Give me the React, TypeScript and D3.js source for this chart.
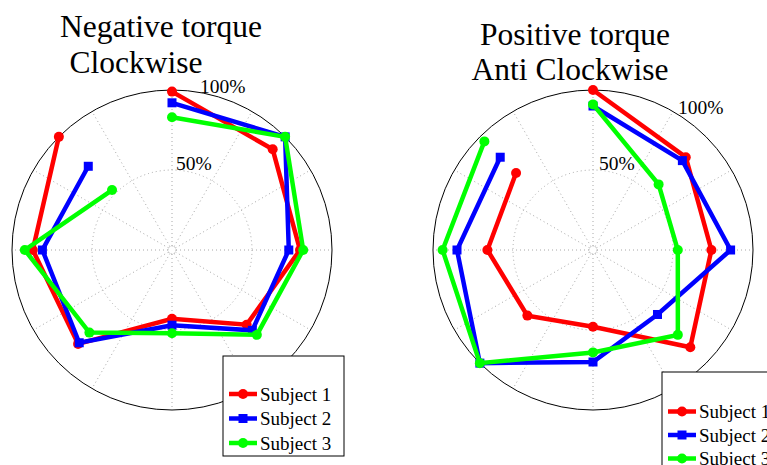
import React from 'react';
import * as d3 from 'd3';

// directions of the 8 measurements, degrees counter-clockwise from +x
const angles = [90, 45, 0, -45, -90, -135, 180, 135];

// percent values
const negSubject1 = [99, 89, 80, 66, 43, 83, 87, 100];
const negSubject2 = [92, 100, 73, 71, 47, 82, 81, 74];
const negSubject3 = [83, 100, 82, 75, 52, 73, 92, 53];

const posSubject1 = [100, 82, 74, 86, 48, 58, 66, 68];
const posSubject2 = [90, 79, 86, 57, 70, 100, 85, 82];
const posSubject3 = [91, 58, 53, 75, 64, 100, 94, 96];

const seriesNames = ['Subject 1', 'Subject 2', 'Subject 3'];
const seriesColors = ['#ff0000', '#0000ff', '#00ff00'];
const seriesMarkers = ['circle', 'square', 'circle'];
const ringTicks = [50, 100];

const R = 160;
const serif = { fontFamily: 'Liberation Serif, Times New Roman, DejaVu Serif, serif' };

const rScale = d3.scaleLinear().domain([0, 100]).range([0, R]);

const Marker = ({ x, y, kind, color }: { x: number; y: number; kind: string; color: string }) =>
    kind === 'square'
        ? <rect x={x - 4.5} y={y - 4.5} width={9} height={9} fill={color} />
        : <circle cx={x} cy={y} r={5} fill={color} />;

const PolarPanel = ({ cx, cy, series, titles, labelPos, legend }: any) => {
    const pt = (deg: number, v: number) => {
        const a = (deg * Math.PI) / 180;
        return [cx + rScale(v) * Math.cos(a), cy - rScale(v) * Math.sin(a)];
    };
    const line = d3.line<number[]>().x(d => d[0]).y(d => d[1]);
    const spokes = d3.range(0, 360, 30);

    return (
        <g>
            {/* grid */}
            {spokes.map(s => {
                const a = (s * Math.PI) / 180;
                return (
                    <line key={s}
                        x1={cx + 4 * Math.cos(a)} y1={cy - 4 * Math.sin(a)}
                        x2={cx + R * Math.cos(a)} y2={cy - R * Math.sin(a)}
                        stroke="#a8a8a8" strokeWidth={1} strokeDasharray="1,3" />
                );
            })}
            <circle cx={cx} cy={cy} r={4} fill="none" stroke="#a8a8a8" strokeDasharray="1,2" />
            <circle cx={cx} cy={cy} r={rScale(ringTicks[0])} fill="none" stroke="#a8a8a8" strokeDasharray="1,3" />
            <circle cx={cx} cy={cy} r={rScale(ringTicks[1])} fill="none" stroke="#000" strokeWidth={1} />
            {ringTicks.map((t, i) => (
                <text key={t} x={labelPos[i][0]} y={labelPos[i][1]} style={serif} fontSize={19.5}>{t}%</text>
            ))}

            {/* data */}
            {series.map((vals: number[], si: number) => {
                const pts = vals.map((v, i) => pt(angles[i], v));
                return (
                    <g key={si}>
                        <path d={line(pts) || ''} fill="none" stroke={seriesColors[si]} strokeWidth={4.5} strokeLinejoin="miter" />
                        {pts.map((p, i) => <Marker key={i} x={p[0]} y={p[1]} kind={seriesMarkers[si]} color={seriesColors[si]} />)}
                    </g>
                );
            })}

            {/* titles */}
            {titles.map((t: any, i: number) => (
                <text key={i} x={t.x} y={t.y} textAnchor="middle" style={serif} fontSize={31.5}>{t.text}</text>
            ))}

            {/* legend */}
            <rect x={legend.x} y={legend.y} width={legend.w} height={legend.h} fill="#fff" stroke="#000" strokeWidth={1} />
            {seriesNames.map((n, i) => {
                const y = legend.firstY + i * legend.step;
                const x0 = legend.x + 6;
                const x1 = x0 + 28;
                return (
                    <g key={n}>
                        <line x1={x0} y1={y} x2={x1} y2={y} stroke={seriesColors[i]} strokeWidth={4.5} />
                        <Marker x={(x0 + x1) / 2} y={y} kind={seriesMarkers[i]} color={seriesColors[i]} />
                        <text x={x1 + 3} y={y + 6.5} style={serif} fontSize={19}>{n}</text>
                    </g>
                );
            })}
        </g>
    );
};

export default function App() {
    return (
        <svg width={767} height={465} style={{ position: 'absolute', left: 0, top: 0, background: '#fff' }}>
            <PolarPanel
                cx={172} cy={250}
                series={[negSubject1, negSubject2, negSubject3]}
                titles={[{ text: 'Negative torque', x: 161, y: 37 }, { text: 'Clockwise', x: 136, y: 73 }]}
                labelPos={[[176, 170], [200, 93]]}
                legend={{ x: 223, y: 356, w: 121, h: 100, firstY: 394, step: 24.5 }}
            />
            <PolarPanel
                cx={593} cy={250}
                series={[posSubject1, posSubject2, posSubject3]}
                titles={[{ text: 'Positive torque', x: 575, y: 45 }, { text: 'Anti Clockwise', x: 570, y: 80 }]}
                labelPos={[[599, 170], [678, 114]]}
                legend={{ x: 662, y: 372, w: 130, h: 100, firstY: 411.5, step: 23.5 }}
            />
        </svg>
    );
}
